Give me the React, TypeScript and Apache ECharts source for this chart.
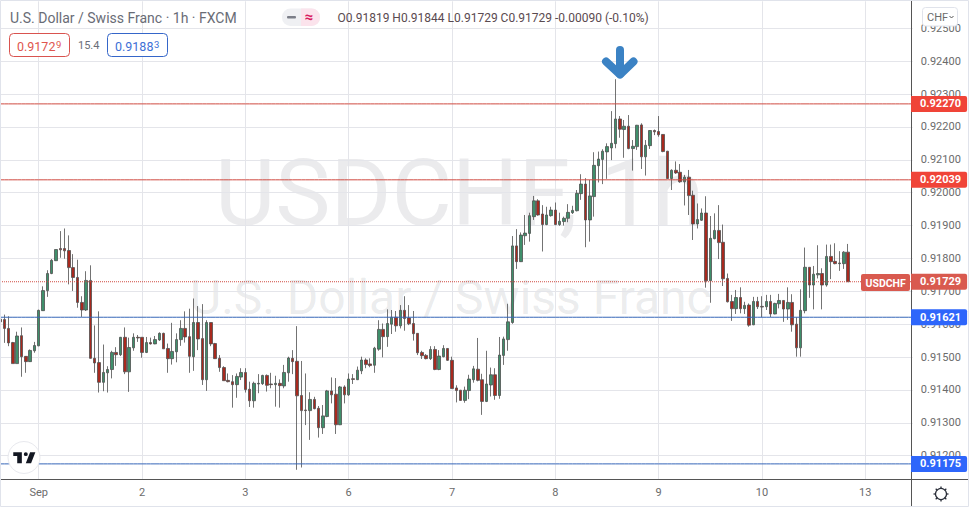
import React, { useEffect, useRef } from "react";
import * as echarts from "echarts";

// Prices are written in points (1 point = 0.00001)
const opens = [91615,91614,91587,91544,91480,91565,91502,91486,91519,91534,
91641,91702,91754,91793,91830,91830,91824,91772,91742,91666,
91643,91733,91496,91483,91423,91452,91462,91514,91507,91560,
91455,91528,91560,91560,91514,91544,91540,91552,91572,91526,
91495,91516,91553,91587,91562,91501,91605,91556,91431,91605,
91541,91496,91468,91429,91425,91416,91439,91453,91402,91367,
91418,91419,91444,91418,91416,91420,91412,91452,91496,91487,
91383,91339,91337,91371,91344,91285,91319,91397,91387,91294,
91409,91385,91434,91431,91458,91491,91479,91475,91524,91584,
91562,91600,91621,91595,91642,91619,91602,91572,91514,91505,
91495,91523,91462,91501,91526,91490,91406,91399,91368,91398,
91431,91463,91431,91365,91415,91446,91383,91505,91553,91605,
91838,91790,91869,91876,91927,91975,91935,91903,91930,91947,
91903,91912,91922,91939,91945,91997,92026,91917,91988,92082,
92101,92124,92136,92149,92224,92192,92202,92134,92140,92206,
92109,92143,92189,92186,92177,92126,92043,92068,92062,92033,
92047,91992,91905,91916,91938,91732,91860,91885,91849,91739,
91669,91647,91681,91647,91658,91598,91669,91654,91653,91669,
91631,91662,91672,91646,91666,91600,91528,91641,91773,91719,
91750,91754,91719,91806,91791,91784,91784,91819];
const closes = [91607,91587,91543,91480,91564,91501,91486,91520,91535,91642,
91702,91754,91794,91827,91826,91823,91772,91742,91666,91643,
91733,91496,91482,91423,91453,91462,91514,91507,91560,91455,
91529,91560,91558,91514,91544,91540,91553,91572,91525,91495,
91517,91553,91587,91561,91502,91605,91555,91431,91605,91540,
91495,91468,91428,91425,91416,91441,91453,91401,91367,91420,
91420,91444,91414,91416,91420,91413,91453,91497,91486,91382,
91337,91337,91371,91343,91285,91321,91397,91385,91294,91409,
91385,91433,91432,91460,91491,91477,91474,91527,91584,91562,
91602,91621,91595,91642,91617,91601,91571,91513,91504,91495,
91523,91462,91503,91526,91490,91404,91398,91368,91399,91433,
91464,91429,91365,91418,91446,91383,91506,91555,91607,91838,
91790,91871,91877,91930,91975,91932,91903,91932,91947,91903,
91913,91922,91940,91946,91998,92026,91917,91990,92083,92102,
92126,92140,92150,92224,92193,92202,92134,92141,92205,92109,
92144,92189,92185,92176,92125,92043,92068,92060,92033,92047,
91991,91905,91918,91938,91732,91861,91885,91848,91738,91668,
91647,91681,91647,91657,91597,91669,91653,91652,91669,91631,
91663,91672,91646,91666,91598,91528,91642,91773,91719,91752,
91754,91719,91806,91790,91784,91786,91819,91729];
const lows = [91602,91543,91533,91480,91480,91440,91452,91485,91513,91533,
91640,91683,91752,91792,91802,91799,91721,91701,91650,91622,
91640,91495,91452,91392,91396,91392,91435,91473,91503,91448,
91394,91519,91546,91498,91512,91538,91539,91549,91525,91452,
91477,91484,91534,91544,91452,91458,91521,91415,91397,91533,
91494,91455,91428,91423,91346,91376,91430,91392,91348,91346,
91390,91415,91395,91405,91349,91346,91405,91425,91448,91157,
91164,91293,91248,91341,91255,91266,91317,91359,91266,91293,
91359,91382,91418,91430,91448,91466,91469,91452,91519,91499,
91531,91570,91577,91587,91580,91597,91550,91506,91494,91493,
91491,91460,91460,91499,91488,91403,91362,91367,91361,91372,
91422,91426,91324,91363,91380,91370,91373,91476,91519,91601,
91768,91789,91841,91851,91917,91930,91821,91901,91927,91901,
91899,91900,91910,91935,91943,91978,91834,91851,91927,92031,
92026,92042,92099,92135,92167,92106,92132,92067,92130,92072,
92052,92133,92175,92170,92123,92042,92008,92057,92030,91961,
91932,91856,91891,91914,91711,91665,91858,91798,91716,91666,
91610,91631,91633,91631,91592,91597,91646,91621,91643,91621,
91630,91648,91607,91613,91577,91501,91501,91633,91680,91645,
91739,91645,91714,91737,91782,91762,91768,91729];
const highs = [91629,91629,91624,91546,91577,91590,91503,91523,91546,91644,
91715,91764,91798,91827,91883,91891,91870,91813,91796,91685,
91761,91779,91596,91639,91538,91472,91519,91530,91561,91590,
91559,91572,91567,91560,91561,91559,91564,91575,91574,91541,
91604,91572,91612,91639,91647,91678,91655,91661,91612,91605,
91543,91506,91472,91450,91445,91450,91466,91466,91425,91425,
91448,91446,91447,91452,91443,91432,91476,91501,91521,91594,
91488,91450,91393,91379,91351,91354,91400,91438,91436,91412,
91414,91450,91448,91471,91501,91496,91496,91531,91612,91602,
91645,91643,91640,91658,91685,91658,91640,91572,91519,91509,
91533,91533,91521,91536,91527,91501,91414,91400,91410,91446,
91473,91558,91449,91519,91468,91466,91561,91562,91662,91868,
91889,91879,91932,91939,91990,91980,91962,91957,91957,91970,
91939,91927,91965,91960,92008,92056,92044,92039,92123,92125,
92132,92150,92248,92345,92233,92221,92236,92160,92206,92211,
92160,92190,92192,92233,92178,92127,92071,92095,92087,92054,
92069,92006,91967,91952,91989,91929,91937,91962,91903,91754,
91689,91704,91712,91668,91663,91683,91683,91685,91689,91689,
91665,91692,91673,91712,91691,91621,91706,91833,91773,91777,
91840,91770,91842,91842,91846,91822,91822,91844];

const dayLabels = ["Sep", "2", "3", "6", "7", "8", "9", "10", "13"];
const dayIndexes = [9, 33, 57, 81, 105, 129, 153, 177, 201];
const slotCount = 213;
const priceTicks = [0.912, 0.913, 0.914, 0.915, 0.916, 0.917, 0.918, 0.919, 0.92, 0.921, 0.922, 0.923, 0.924, 0.925];
const resistance = [0.9227, 0.92039];
const support = [0.91621, 0.91175];
const lastPrice = 0.91729;

const FONT = "Roboto";
const RED = "#cf4a40";
const BLUE = "#3566b8";
const BADGE_RED = "#f04438";
const BADGE_BLUE = "#2e66fb";
const BADGE_LAST = "#d95a4f";

echarts.graphic.registerShape(
  "tvLogo",
  echarts.graphic.extendPath("M14 25H7V14H1V8h13v17zM28 25h-8l6.5-17h8L28 25zM20 8a3 3 0 1 0 0 6 3 3 0 0 0 0-6z", {})
);

function level(value: number, color: string, bg: string, type = "solid") {
  return {
    type: "line",
    data: Array.from({ length: slotCount }, () => value),
    showSymbol: false,
    symbol: "none",
    silent: true,
    z: 5,
    itemStyle: { color },
    lineStyle: { color, width: 1, type, opacity: 1 },
    endLabel: {
      show: true,
      distance: -1.6,
      formatter: value.toFixed(5),
      backgroundColor: bg,
      color: "#fff",
      fontFamily: FONT,
      fontWeight: "bold",
      fontSize: 11,
      padding: [3, 6, 3, 9],
      lineHeight: 10,
      align: "left",
      verticalAlign: "middle",
      borderRadius: [0, 2, 2, 0],
    },
  };
}

function text(x: number, y: number, t: string, fill: string, fontSize: number, extra: any = {}) {
  return {
    type: "text",
    x,
    y,
    z: 103,
    silent: true,
    style: { text: t, fill, fontSize, fontFamily: FONT, textVerticalAlign: "middle", ...extra },
  };
}

export default function App() {
  const ref = useRef<HTMLDivElement>(null);
  useEffect(() => {
    document.body.style.margin = "0";
    const chart = echarts.init(ref.current!, null, { renderer: "svg" });
    const categories = Array.from({ length: slotCount }, (_, i) => {
      const k = dayIndexes.indexOf(i);
      return k >= 0 ? dayLabels[k] : "";
    });
    const isDay = (i: number) => dayIndexes.includes(i);
    const gearTicks = [0, 45, 90, 135, 180, 225, 270, 315].map((a) => {
      const r = (a * Math.PI) / 180;
      return {
        type: "line",
        z: 100,
        shape: {
          x1: 941 + 5.5 * Math.cos(r),
          y1: 494 + 5.5 * Math.sin(r),
          x2: 941 + 7.5 * Math.cos(r),
          y2: 494 + 7.5 * Math.sin(r),
        },
        style: { stroke: "#2a2e39", lineWidth: 1.3 },
      };
    });
    chart.setOption({
      animation: false,
      backgroundColor: "#fff",
      grid: { left: -0.46, top: 1.3, width: 913.1, height: 477.7, containLabel: false },
      xAxis: {
        type: "category",
        data: categories,
        boundaryGap: false,
        axisLine: { lineStyle: { color: "#555", width: 1 } },
        axisTick: { show: false },
        axisLabel: {
          interval: (i: number) => isDay(i),
          color: "#6b6b6b",
          fontFamily: FONT,
          fontSize: 11,
          margin: 8,
          hideOverlap: false,
        },
        splitLine: {
          show: true,
          interval: (i: number) => isDay(i),
          lineStyle: { color: "#e4e5ea", width: 1 },
        },
      },
      yAxis: {
        type: "value",
        position: "right",
        offset: -1.3,
        min: 0.91129,
        max: 0.92582,
        scale: true,
        axisLine: { show: true, lineStyle: { color: "#555", width: 1 } },
        axisTick: { show: false, customValues: priceTicks },
        axisLabel: {
          customValues: priceTicks,
          formatter: (v: number) => v.toFixed(5),
          color: "#6b6b6b",
          fontFamily: FONT,
          fontSize: 11,
          margin: 9.5,
          align: "left",
        },
        splitLine: { show: true, lineStyle: { color: "#e4e5ea", width: 1 } },
      },
      series: [
        {
          type: "candlestick",
          barWidth: 3,
          data: opens.map((o, i) => [o / 1e5, closes[i] / 1e5, lows[i] / 1e5, highs[i] / 1e5]),
          itemStyle: {
            color: "#3f8f6b",
            color0: "#a8291e",
            borderColor: "#4f4f4f",
            borderColor0: "#4f4f4f",
            borderWidth: 0.8,
          },
        },
        level(resistance[0], RED, BADGE_RED),
        level(resistance[1], RED, BADGE_RED),
        level(lastPrice, RED, BADGE_LAST, "dotted"),
        level(support[0], BLUE, BADGE_BLUE),
        level(support[1], BLUE, BADGE_BLUE),
      ],
      graphic: [
        // watermarks
        { type: "text", x: 215, y: 193, z: -1, silent: true, style: { text: "USDCHF, 1h", fill: "rgba(110,112,125,0.14)", fontSize: 93, fontFamily: FONT, textVerticalAlign: "middle" } },
        { type: "text", x: 190, y: 297, z: -1, silent: true, style: { text: "U.S. Dollar / Swiss Franc", fill: "rgba(110,112,125,0.14)", fontSize: 48, fontFamily: FONT, textVerticalAlign: "middle" } },
        // outer frame
        { type: "rect", z: 90, silent: true, shape: { x: 0.5, y: 0.5, width: 968, height: 506 }, style: { fill: "none", stroke: "#e0e3eb", lineWidth: 1 } },
        // axis extensions
        { type: "line", z: 90, shape: { x1: 911.5, y1: 479, x2: 911.5, y2: 506 }, style: { stroke: "#555", lineWidth: 1 } },
        { type: "line", z: 90, shape: { x1: 911, y1: 479.5, x2: 968, y2: 479.5 }, style: { stroke: "#555", lineWidth: 1 } },
        // header
        text(10, 18, "U.S. Dollar / Swiss Franc · 1h · FXCM", "#696c76", 14),
        { type: "rect", z: 100, shape: { x: 282, y: 8.5, width: 38, height: 17.5, r: 8.5 }, style: { fill: "#eff0f3" } },
        { type: "rect", z: 101, shape: { x: 301, y: 8.5, width: 19, height: 17.5, r: [0, 8.5, 8.5, 0] }, style: { fill: "#fbe3ec" } },
        { type: "rect", z: 102, shape: { x: 287, y: 16, width: 9, height: 2.5, r: 1 }, style: { fill: "#7b7e88" } },
        text(304.5, 17, "≈", "#d81b60", 15, { fontWeight: "bold" }),
        text(337.5, 18, "O0.91819 H0.91844 L0.91729 C0.91729 -0.00090 (-0.10%)", "#5a4a50", 12, { letterSpacing: 0.1 }),
        // bid / ask
        { type: "rect", z: 100, shape: { x: 9.5, y: 33.5, width: 60, height: 23, r: 4 }, style: { fill: "#fff", stroke: "#d9534f", lineWidth: 1 } },
        text(17, 46, "0.9172", "#e0554e", 12.5),
        text(56, 44, "9", "#e0554e", 9.5),
        text(78, 45.5, "15.4", "#6b6e78", 11),
        { type: "rect", z: 100, shape: { x: 107.5, y: 33.5, width: 60, height: 23, r: 4 }, style: { fill: "#fff", stroke: "#3566c9", lineWidth: 1 } },
        text(115, 46, "0.9188", "#3d6fd6", 12.5),
        text(154, 44, "3", "#3d6fd6", 9.5),
        // arrow marker
        { type: "polyline", z: 100, silent: true, shape: { points: [[620, 50], [620, 74]] }, style: { stroke: "#3b82c4", fill: "none", lineWidth: 8, lineCap: "round", lineJoin: "round" } },
        { type: "polyline", z: 100, silent: true, shape: { points: [[606, 61.5], [620, 74.5], [633.5, 61.5]] }, style: { stroke: "#3b82c4", fill: "none", lineWidth: 8, lineCap: "round", lineJoin: "round" } },
        // symbol tag
        { type: "rect", z: 100, shape: { x: 861, y: 274, width: 49, height: 17, r: 2 }, style: { fill: BADGE_LAST } },
        text(865.5, 283, "USDCHF", "#fff", 10.5, { fontWeight: "bold" }),
        // currency button
        { type: "rect", z: 100, shape: { x: 922.5, y: 7.5, width: 35, height: 18.5, r: 3 }, style: { fill: "#fff", stroke: "#e0e3eb", lineWidth: 1 } },
        text(927, 17, "CHF", "#6b6b6b", 11),
        { type: "polyline", z: 101, shape: { points: [[949.5, 16], [951.5, 18], [953.5, 16]] }, style: { stroke: "#555", fill: "none", lineWidth: 1 } },
        // logo
        { type: "circle", z: 100, shape: { cx: 24, cy: 457.5, r: 16 }, style: { fill: "#fff", stroke: "#e8e9ee", lineWidth: 1 } },
        { type: "tvLogo", z: 101, x: 12.6, y: 447, scaleX: 0.66, scaleY: 0.65, style: { fill: "#131722" } },
        // settings gear
        { type: "circle", z: 100, shape: { cx: 941, cy: 494, r: 5.5 }, style: { fill: "#fff", stroke: "#2a2e39", lineWidth: 1.2 } },
        ...gearTicks,
      ],
    });
    return () => chart.dispose();
  }, []);
  return <div ref={ref} style={{ width: 969, height: 508, display: "block" }} />;
}
